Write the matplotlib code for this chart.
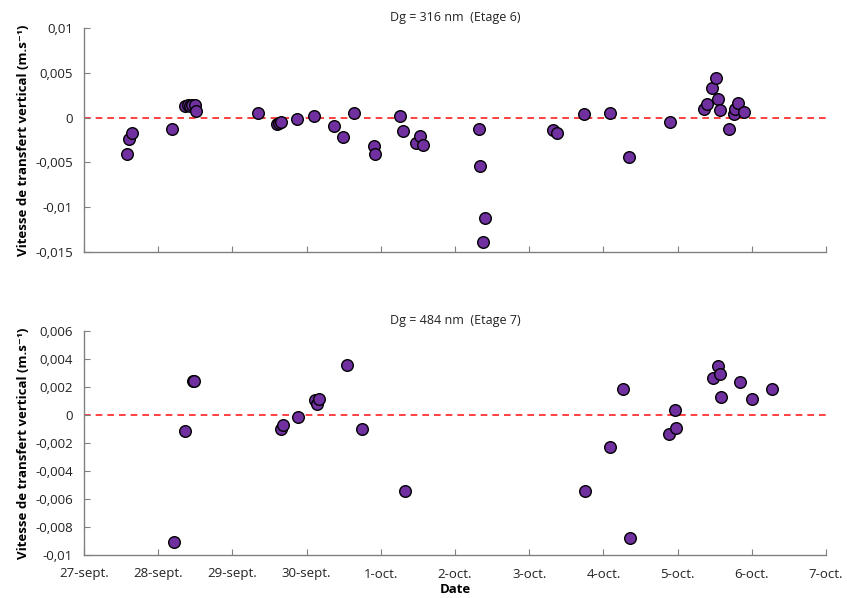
import numpy as np
import matplotlib
matplotlib.use("Agg")
import matplotlib.pyplot as plt
from matplotlib.ticker import FuncFormatter

plt.rcParams['font.family'] = ['Open Sans', 'DejaVu Sans']

# Jours depuis le 27-sept. (0 = 27-sept. 00:00)
jours_e6 = [0.584, 0.602, 0.643, 1.190, 1.365, 1.398, 1.429, 1.449, 1.496, 1.509,
            2.349, 2.605, 2.628, 2.655, 2.867, 3.104, 3.365, 3.495, 3.635, 3.908,
            3.918, 4.263, 4.299, 4.474, 4.528, 4.573, 5.323, 5.337, 5.404, 5.381,
            6.325, 6.379, 6.735, 7.089, 7.341, 7.898, 8.356, 8.400, 8.464, 8.513,
            8.548, 8.567, 8.689, 8.764, 8.777, 8.818, 8.899]
vitesse_e6 = [-0.0041, -0.00243, -0.00176, -0.00127, 0.00126, 0.0014, 0.00126, 0.0014, 0.0014, 0.00075,
              0.00052, -0.00072, -0.0006, -0.00053, -0.00019, 0.00022, -0.00097, -0.00217, 0.00052, -0.00313,
              -0.0041, 0.00022, -0.00153, -0.00284, -0.00206, -0.00302, -0.00127, -0.00541, -0.01123, -0.01391,
              -0.00134, -0.00168, 0.0004, 0.00048, -0.00441, -0.00045, 0.001, 0.00157, 0.00331, 0.00447,
              0.00208, 0.00082, -0.00131, 0.00045, 0.00096, 0.0016, 0.00059]

jours_e7 = [1.209, 1.365, 1.465, 1.478, 2.655, 2.678, 2.884, 3.109, 3.136, 3.163,
            3.544, 3.743, 4.326, 6.752, 7.085, 7.268, 7.354, 7.888, 7.965, 7.983,
            8.473, 8.540, 8.567, 8.585, 8.837, 8.999, 9.268]
vitesse_e7 = [-0.0091, -0.00117, 0.0024, 0.0024, -0.00098, -0.00071, -0.00017, 0.00109, 0.00076, 0.00116,
              0.00354, -0.00103, -0.00546, -0.00543, -0.00226, 0.00188, -0.00876, -0.00136, 0.00038, -0.00093,
              0.00266, 0.00352, 0.00295, 0.00129, 0.00233, 0.00116, 0.00186]

dates = ["27-sept.", "28-sept.", "29-sept.", "30-sept.", "1-oct.", "2-oct.",
         "3-oct.", "4-oct.", "5-oct.", "6-oct.", "7-oct."]

fig = plt.figure(figsize=(8.47, 5.98), dpi=100)
ax1 = fig.add_axes([84 / 847, 1 - 252 / 598, 742 / 847, 224 / 598])
ax2 = fig.add_axes([84 / 847, 1 - 555 / 598, 742 / 847, 224 / 598])

virgule = FuncFormatter(lambda v, p: "0" if abs(v) < 1e-12 else f"{v:g}".replace(".", ","))


def habiller(ax, x, y, titre, ymin, ymax, pas):
    ax.axhline(0, color="#ff2020", ls=(0, (4, 3)), lw=1.2, zorder=1)
    ax.scatter(x, y, s=70, c="#7030A0", edgecolors="black", linewidths=1.0, zorder=3)
    ax.set_xlim(0, 10)
    ax.set_ylim(ymin, ymax)
    ax.set_yticks(np.arange(ymin, ymax + pas / 2, pas))
    ax.yaxis.set_major_formatter(virgule)
    ax.set_xticks(range(11))
    for s in ["top", "right"]:
        ax.spines[s].set_visible(False)
    for s in ["left", "bottom"]:
        ax.spines[s].set_color("#808080")
        ax.spines[s].set_linewidth(1.0)
    ax.tick_params(direction="in", length=4, color="#808080", labelsize=9.5, labelcolor="#222222")
    ax.tick_params(axis="x", pad=9)
    ax.tick_params(axis="y", pad=8)
    ax.set_title(titre, fontsize=9, pad=5, color="#222222")
    ax.set_ylabel("Vitesse de transfert vertical (m.s⁻¹)", fontsize=9.5, fontweight="bold", labelpad=4)


habiller(ax1, jours_e6, vitesse_e6, "Dg = 316 nm  (Etage 6)", -0.015, 0.01, 0.005)
ax1.set_xticklabels([])

habiller(ax2, jours_e7, vitesse_e7, "Dg = 484 nm  (Etage 7)", -0.01, 0.006, 0.002)
ax2.set_xticklabels(dates)
ax2.set_xlabel("Date", fontsize=9.5, fontweight="bold", labelpad=2)

fig.savefig("out.png", dpi=100)
